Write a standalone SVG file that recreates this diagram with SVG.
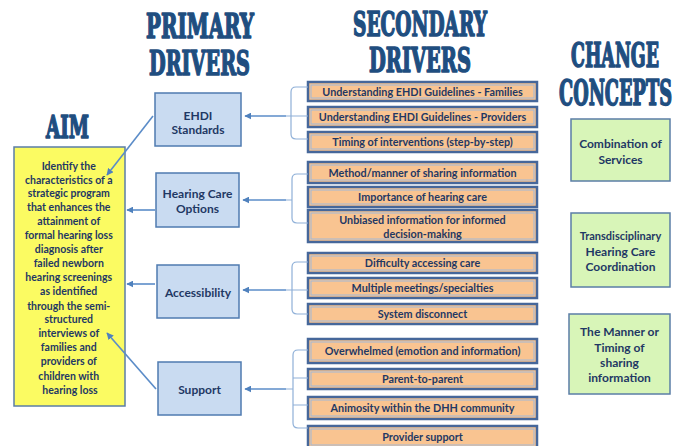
<svg xmlns="http://www.w3.org/2000/svg" width="673" height="446" viewBox="0 0 673 446">
  <defs>
    <marker id="arr" viewBox="0 0 10 10" refX="9" refY="5" markerWidth="7" markerHeight="7" markerUnits="userSpaceOnUse" orient="auto">
      <path d="M0,0 L10,5 L0,10 z" fill="#4f81bd"/>
    </marker>
    <style>
      .head { font-family: "DejaVu Serif Condensed", "DejaVu Serif", serif; font-weight: bold; fill: #1f4e80; stroke: #1f4e80; stroke-width: 1.6; stroke-linejoin: round; }
      .txt { font-family: Lato, "Liberation Sans", sans-serif; font-weight: bold; fill: #1f3864; text-anchor: middle; }
      .aim { fill: #fbfb62; stroke: #5b7ea6; stroke-width: 1.5; }
      .pri { fill: #c9dbf1; stroke: #4f7bb0; stroke-width: 1.5; }
      .chg { fill: #d8f5b8; stroke: #5b7ea6; stroke-width: 1.5; }
      .sec { fill: #f9c491; stroke: #46679a; stroke-width: 2.5; }
      .sec-in { fill: none; stroke: #9fb8d9; stroke-width: 1; }
      .link { fill: none; stroke: #5b8cc8; stroke-width: 1.6; }
      .brk { fill: none; stroke: #8fb0d8; stroke-width: 1.2; }
    </style>
  </defs>

  <rect width="673" height="446" fill="#ffffff"/>

  <!-- column headings -->
  <g id="headings">
    <text class="head" x="146" y="38" font-size="34" textLength="108" lengthAdjust="spacingAndGlyphs">PRIMARY</text>
    <text class="head" x="149" y="75" font-size="34" textLength="101" lengthAdjust="spacingAndGlyphs">DRIVERS</text>
    <text class="head" x="353" y="36" font-size="34" textLength="134" lengthAdjust="spacingAndGlyphs">SECONDARY</text>
    <text class="head" x="369" y="72" font-size="34" textLength="102" lengthAdjust="spacingAndGlyphs">DRIVERS</text>
    <text class="head" x="571" y="67" font-size="33" textLength="88" lengthAdjust="spacingAndGlyphs">CHANGE</text>
    <text class="head" x="559" y="105" font-size="35" textLength="113" lengthAdjust="spacingAndGlyphs">CONCEPTS</text>
    <text class="head" x="46" y="138" font-size="31" textLength="43" lengthAdjust="spacingAndGlyphs">AIM</text>
  </g>

  <!-- aim -->
  <g id="aim">
    <rect class="aim" x="14" y="147" width="111" height="259"/>
    <text class="txt" font-size="10.5">
      <tspan x="70" y="170">Identify the</tspan>
      <tspan x="70" y="183.5">characteristics of a</tspan>
      <tspan x="70" y="197">strategic program</tspan>
      <tspan x="70" y="210.5">that enhances the</tspan>
      <tspan x="70" y="224.5">attainment of</tspan>
      <tspan x="70" y="239">formal hearing loss</tspan>
      <tspan x="70" y="253">diagnosis after</tspan>
      <tspan x="70" y="267">failed newborn</tspan>
      <tspan x="70" y="281">hearing screenings</tspan>
      <tspan x="70" y="295">as identified</tspan>
      <tspan x="70" y="309.5">through the semi-</tspan>
      <tspan x="70" y="323">structured</tspan>
      <tspan x="70" y="337">interviews of</tspan>
      <tspan x="70" y="351">families and</tspan>
      <tspan x="70" y="365">providers of</tspan>
      <tspan x="70" y="379.5">children with</tspan>
      <tspan x="70" y="393.5">hearing loss</tspan>
    </text>
  </g>

  <!-- primary drivers -->
  <g id="p-ehdi">
    <rect class="pri" x="155" y="93" width="86" height="53"/>
    <text class="txt" font-size="12"><tspan x="198" y="119.5">EHDI</tspan><tspan x="198" y="133.5">Standards</tspan></text>
  </g>
  <g id="p-hearing">
    <rect class="pri" x="156" y="173" width="83" height="54"/>
    <text class="txt" font-size="12"><tspan x="197.5" y="198">Hearing Care</tspan><tspan x="197.5" y="213">Options</tspan></text>
  </g>
  <g id="p-access">
    <rect class="pri" x="157" y="265" width="82" height="53"/>
    <text class="txt" font-size="12"><tspan x="198" y="297">Accessibility</tspan></text>
  </g>
  <g id="p-support">
    <rect class="pri" x="158" y="362" width="83" height="53"/>
    <text class="txt" font-size="12"><tspan x="199.5" y="394">Support</tspan></text>
  </g>

  <!-- secondary drivers -->
  <g id="s-families">
    <rect class="sec" x="308" y="82" width="229" height="19"/><rect class="sec-in" x="311" y="85" width="223" height="13"/>
    <text class="txt" x="422.5" y="95.5" font-size="10.8">Understanding EHDI Guidelines - Families</text>
  </g>
  <g id="s-providers">
    <rect class="sec" x="308" y="107" width="229" height="20"/><rect class="sec-in" x="311" y="110" width="223" height="14"/>
    <text class="txt" x="422.5" y="121" font-size="10.8">Understanding EHDI Guidelines - Providers</text>
  </g>
  <g id="s-timing">
    <rect class="sec" x="308" y="132" width="229" height="20"/><rect class="sec-in" x="311" y="135" width="223" height="14"/>
    <text class="txt" x="422.5" y="146" font-size="10.8">Timing of interventions (step-by-step)</text>
  </g>
  <g id="s-method">
    <rect class="sec" x="308" y="162" width="229" height="21"/><rect class="sec-in" x="311" y="165" width="223" height="15"/>
    <text class="txt" x="422.5" y="176.5" font-size="10.8">Method/manner of sharing information</text>
  </g>
  <g id="s-importance">
    <rect class="sec" x="308" y="187" width="229" height="20"/><rect class="sec-in" x="311" y="190" width="223" height="14"/>
    <text class="txt" x="422.5" y="201" font-size="10.8">Importance of hearing care</text>
  </g>
  <g id="s-unbiased">
    <rect class="sec" x="308" y="210" width="229" height="32"/><rect class="sec-in" x="311" y="213" width="223" height="26"/>
    <text class="txt" font-size="10.8"><tspan x="422.5" y="223.5">Unbiased information for informed</tspan><tspan x="422.5" y="237.5">decision-making</tspan></text>
  </g>
  <g id="s-difficulty">
    <rect class="sec" x="308" y="253" width="229" height="20"/><rect class="sec-in" x="311" y="256" width="223" height="14"/>
    <text class="txt" x="422.5" y="267" font-size="10.8">Difficulty accessing care</text>
  </g>
  <g id="s-meetings">
    <rect class="sec" x="308" y="278" width="229" height="20"/><rect class="sec-in" x="311" y="281" width="223" height="14"/>
    <text class="txt" x="422.5" y="292" font-size="10.8">Multiple meetings/specialties</text>
  </g>
  <g id="s-system">
    <rect class="sec" x="308" y="304" width="229" height="20"/><rect class="sec-in" x="311" y="307" width="223" height="14"/>
    <text class="txt" x="422.5" y="318" font-size="10.8">System disconnect</text>
  </g>
  <g id="s-overwhelmed">
    <rect class="sec" x="308" y="339" width="229" height="24"/><rect class="sec-in" x="311" y="342" width="223" height="18"/>
    <text class="txt" x="422.5" y="354.5" font-size="10.8">Overwhelmed (emotion and information)</text>
  </g>
  <g id="s-parent">
    <rect class="sec" x="308" y="369" width="229" height="20"/><rect class="sec-in" x="311" y="372" width="223" height="14"/>
    <text class="txt" x="422.5" y="383" font-size="10.8">Parent-to-parent</text>
  </g>
  <g id="s-animosity">
    <rect class="sec" x="308" y="397" width="229" height="22"/><rect class="sec-in" x="311" y="400" width="223" height="16"/>
    <text class="txt" x="422.5" y="412" font-size="10.8">Animosity within the DHH community</text>
  </g>
  <g id="s-provider">
    <rect class="sec" x="308" y="426" width="229" height="22"/><rect class="sec-in" x="311" y="429" width="223" height="16"/>
    <text class="txt" x="422.5" y="441" font-size="10.8">Provider support</text>
  </g>

  <!-- change concepts -->
  <g id="c-combination">
    <rect class="chg" x="571" y="119" width="99" height="62"/>
    <text class="txt" font-size="12"><tspan x="620.5" y="148">Combination of</tspan><tspan x="620.5" y="164">Services</tspan></text>
  </g>
  <g id="c-transdisciplinary">
    <rect class="chg" x="571" y="213" width="99" height="74"/>
    <text class="txt" font-size="12"><tspan x="620.5" y="240" font-size="11">Transdisciplinary</tspan><tspan x="620.5" y="255.5">Hearing Care</tspan><tspan x="620.5" y="271">Coordination</tspan></text>
  </g>
  <g id="c-manner">
    <rect class="chg" x="569" y="314" width="101" height="80"/>
    <text class="txt" font-size="12"><tspan x="619.5" y="336">The Manner or</tspan><tspan x="619.5" y="352">Timing of</tspan><tspan x="619.5" y="367">sharing</tspan><tspan x="619.5" y="382">information</tspan></text>
  </g>

  <!-- connectors -->
  <g id="connectors">
    <!-- brackets grouping secondary drivers -->
    <path class="brk" d="M308,87 H296 Q291,87 291,92 V134 Q291,139 296,139 H308 M291,116 H308 M286,116 H291"/>
    <path class="brk" d="M308,174 H297 Q292,174 292,179 V218 Q292,223 297,223 H308 M286,200 H292"/>
    <path class="brk" d="M308,262 H297 Q292,262 292,267 V309 Q292,314 297,314 H308 M292,290 H308 M286,290 H292"/>
    <path class="brk" d="M308,350 H298 Q293,350 293,355 V423 Q293,428 298,428 H308 M293,378 H308 M293,405 H308 M286,389 H293"/>

    <!-- secondary to primary -->
    <line class="link" x1="286" y1="116" x2="245" y2="116" marker-end="url(#arr)"/>
    <line class="link" x1="286" y1="200" x2="243" y2="200" marker-end="url(#arr)"/>
    <line class="link" x1="286" y1="290" x2="243" y2="290" marker-end="url(#arr)"/>
    <line class="link" x1="286" y1="389" x2="245" y2="389" marker-end="url(#arr)"/>

    <!-- primary to aim -->
    <line class="link" x1="153" y1="116" x2="107" y2="175" marker-end="url(#arr)"/>
    <line class="link" x1="155" y1="210" x2="127" y2="210" marker-end="url(#arr)"/>
    <line class="link" x1="155" y1="284" x2="127" y2="284" marker-end="url(#arr)"/>
    <line class="link" x1="156" y1="389" x2="107" y2="333" marker-end="url(#arr)"/>
  </g>
</svg>
